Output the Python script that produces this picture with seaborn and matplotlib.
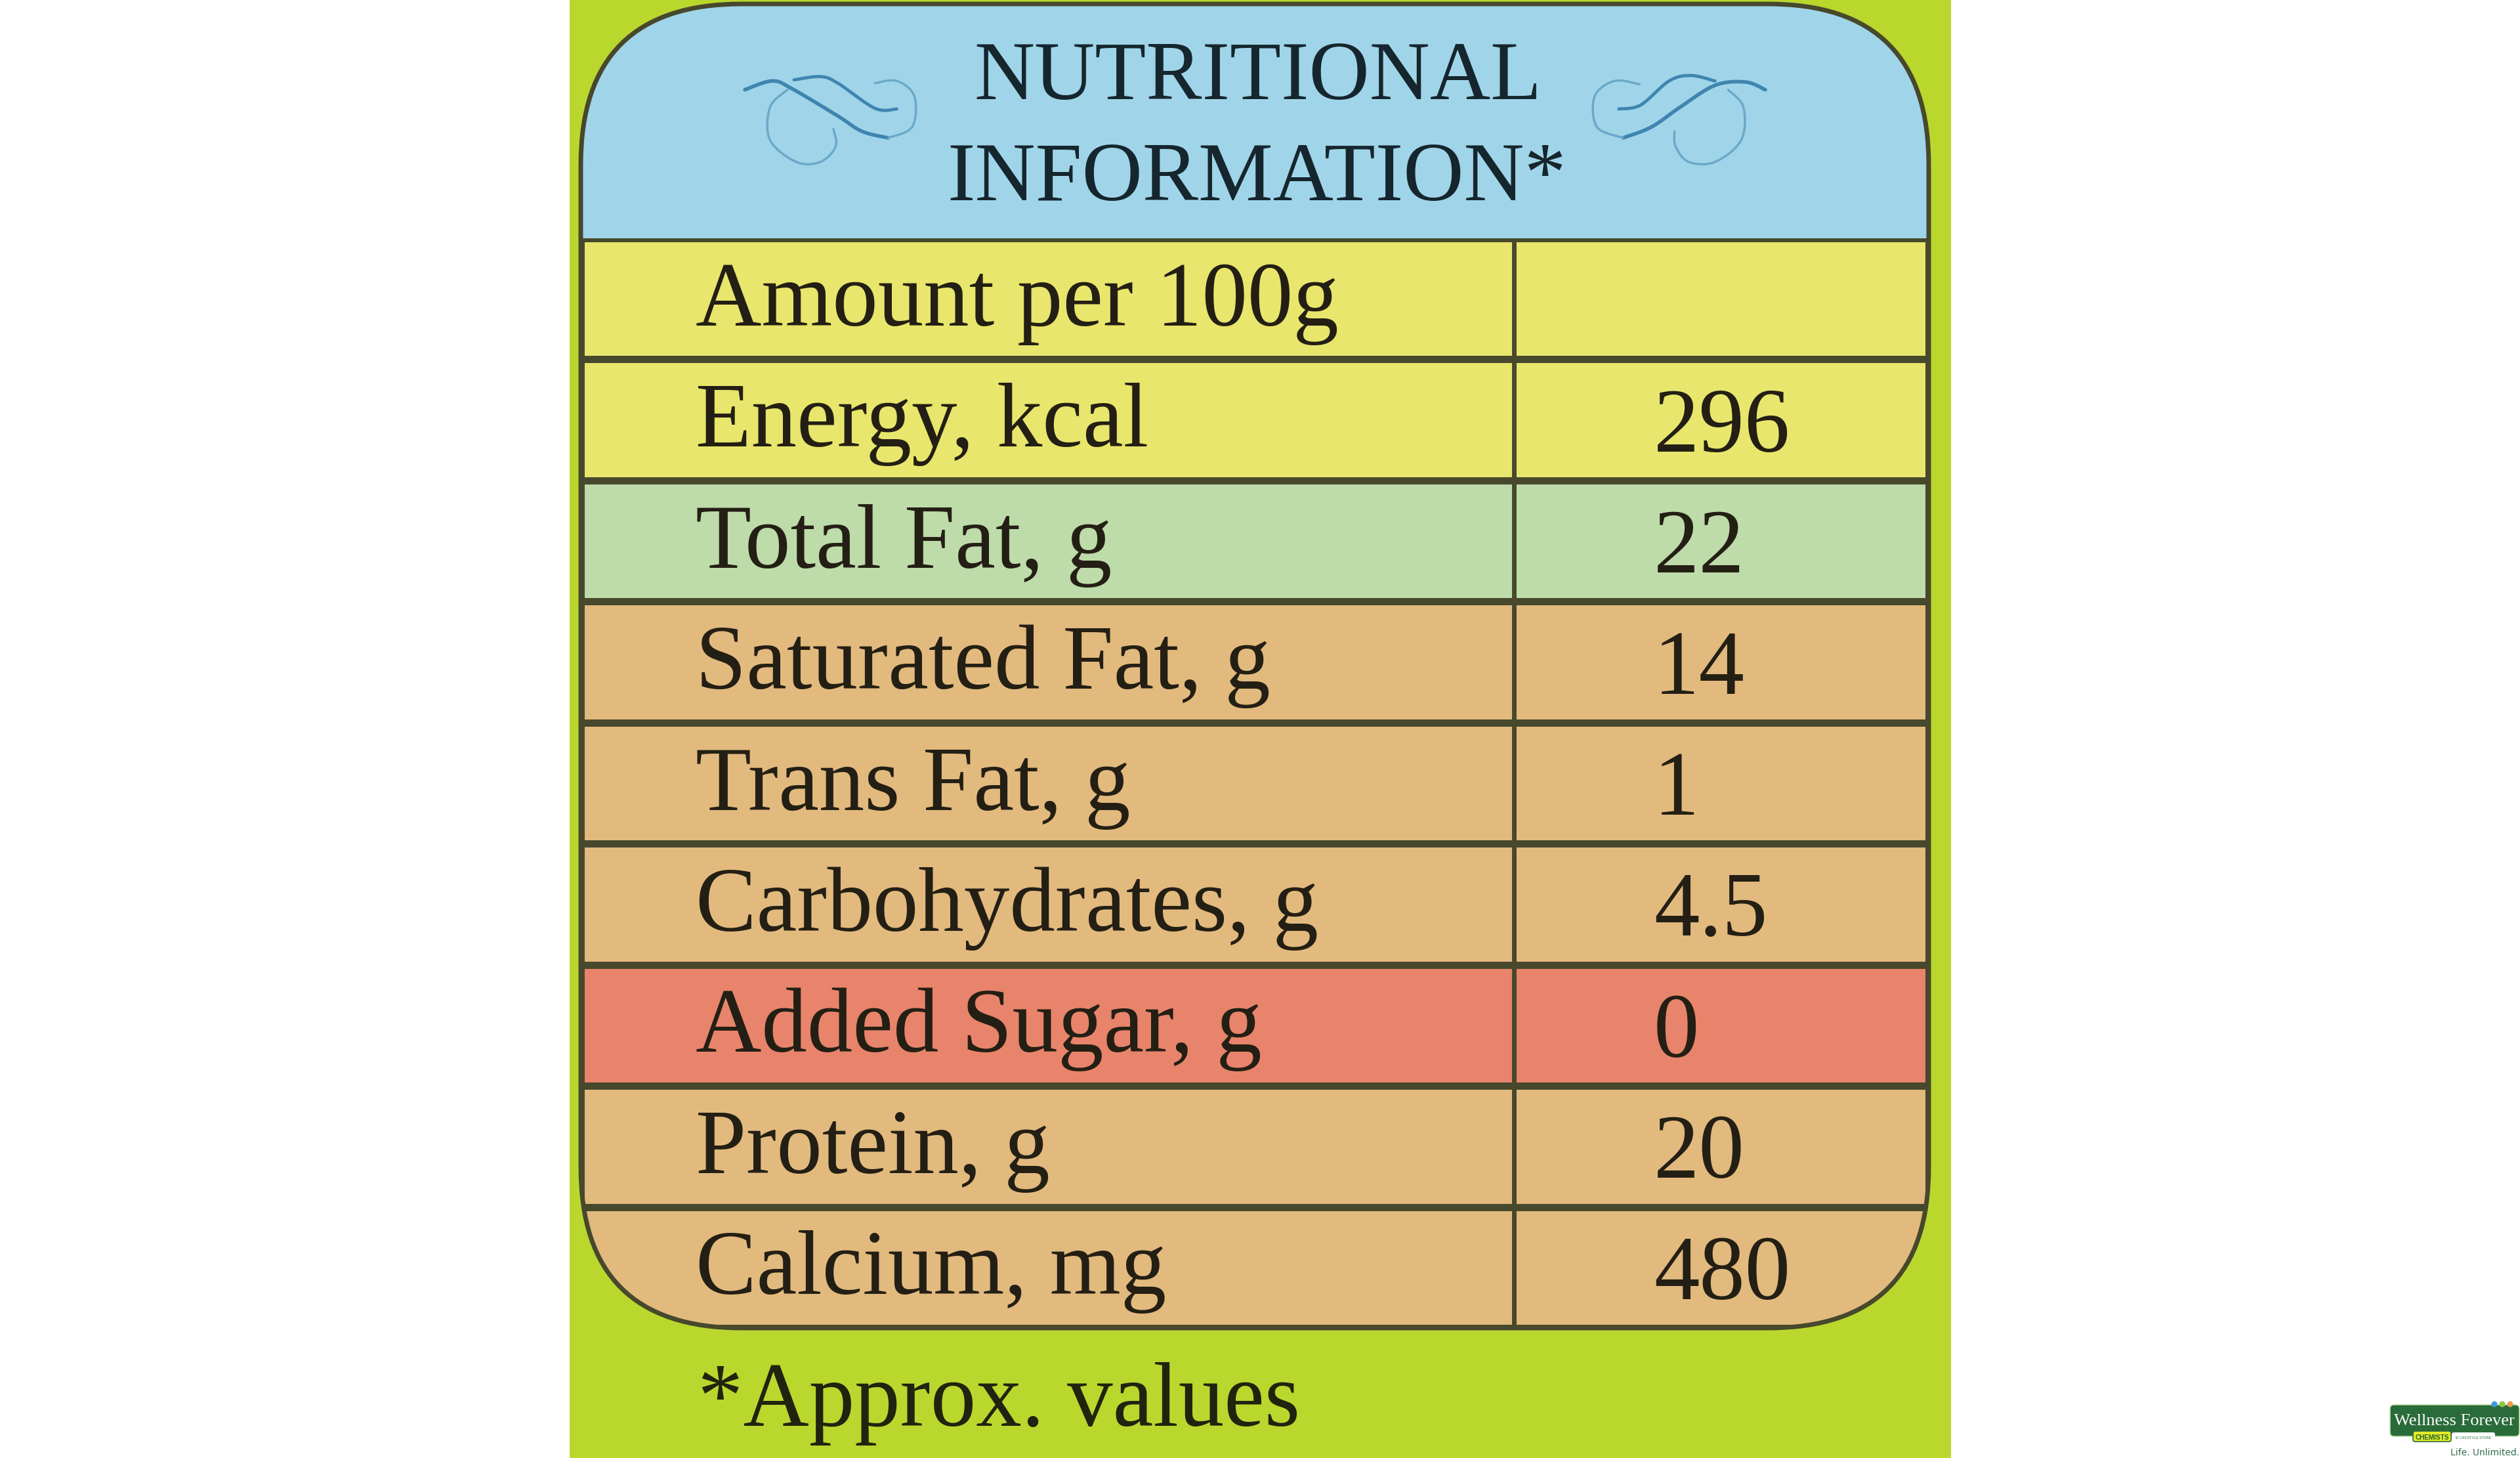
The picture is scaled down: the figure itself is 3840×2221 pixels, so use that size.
import numpy as np
import matplotlib
matplotlib.use("Agg")
import matplotlib.pyplot as plt
from matplotlib.colors import ListedColormap
from matplotlib.patches import FancyBboxPatch, Rectangle, Circle
import seaborn as sns

# ============ Data ============
TITLE_LINES = ["NUTRITIONAL", "INFORMATION*"]
ROW_LABELS = ["Amount per 100g", "Energy, kcal", "Total Fat, g", "Saturated Fat, g", "Trans Fat, g",
              "Carbohydrates, g", "Added Sugar, g", "Protein, g", "Calcium, mg"]
ROW_VALUES = ["", "296", "22", "14", "1", "4.5", "0", "20", "480"]
ROW_BANDS = [0, 0, 1, 2, 2, 2, 3, 2, 2]
BAND_COLORS = ["#E8E66C", "#BEDBAA", "#E2BA7E", "#E8846B"]
FOOTNOTE = "*Approx. values"

# ============ Style ============
W, H = 3840, 2221
LIME = "#BAD72E"
SKY = "#A0D5E9"
LINE = "#47482C"
SERIF = "Liberation Serif"
TXT = "#241F14"
PANEL_L, PANEL_R, PANEL_T, PANEL_B = 885, 2939, 6, 2023
HEAD_B = 363
DIVIDER = 2307
THICK = "#3F85B0"
THIN = "#6BA9C8"

# swash outlines, in crop pixels
SWASH_L = [
    ([(105, 170), (230, 130), (320, 165), (530, 290), (640, 360), (760, 390)], THICK, 4),
    ([(330, 125), (450, 110), (530, 140), (700, 255), (800, 258)], THICK, 3.5),
    ([(760, 390), (870, 340), (880, 200), (800, 130), (700, 140)], THIN, 2.5),
    ([(300, 170), (220, 250), (220, 400), (340, 500), (450, 500), (520, 430), (510, 350)], THIN, 2.5),
]
SWASH_R = [
    ([(870, 170), (780, 135), (640, 150), (480, 250), (350, 340), (220, 390)], THICK, 4),
    ([(640, 130), (530, 105), (430, 130), (300, 240), (200, 258)], THICK, 3.5),
    ([(220, 390), (100, 340), (90, 200), (180, 130), (295, 145)], THIN, 2.5),
    ([(700, 170), (770, 250), (760, 400), (640, 500), (520, 500), (460, 430), (455, 360)], THIN, 2.5),
]


def smooth(pts, n=24):
    # catmull-rom through the outline points
    p = np.array([pts[0]] + pts + [pts[-1]], dtype=float)
    out = []
    for i in range(1, len(p) - 2):
        for t in np.linspace(0, 1, n):
            out.append(0.5 * (2 * p[i] + (p[i + 1] - p[i - 1]) * t
                              + (2 * p[i - 1] - 5 * p[i] + 4 * p[i + 1] - p[i + 2]) * t ** 2
                              + (3 * p[i] - p[i - 1] - 3 * p[i + 1] + p[i + 2]) * t ** 3))
    return np.array(out)


def draw_swash(ax, strokes, x0, y0):
    for pts, col, lw in strokes:
        xy = smooth(pts)
        ax.plot(x0 + xy[:, 0] / 3, y0 + xy[:, 1] / 3, color=col, lw=lw, solid_capstyle="round")


fig = plt.figure(figsize=(W / 100, H / 100), dpi=100, facecolor="white")
bg = fig.add_axes([0, 0, 1, 1], zorder=0)
bg.set_xlim(0, W)
bg.set_ylim(H, 0)
bg.axis("off")

# backdrop and rounded panel
bg.add_patch(Rectangle((868, 0), 2973 - 868, H, fc=LIME, ec="none"))
r = 245
box = FancyBboxPatch((PANEL_L, PANEL_T), PANEL_R - PANEL_L, PANEL_B - PANEL_T,
                     boxstyle=f"round,pad=0,rounding_size={r}", fc=SKY, ec="none")
bg.add_patch(box)

# rows
heat = fig.add_axes([PANEL_L / W, 1 - PANEL_B / H, (PANEL_R - PANEL_L) / W, (PANEL_B - HEAD_B) / H], zorder=1)
heat.patch.set_alpha(0)
grid = np.array(ROW_BANDS).reshape(-1, 1)
sns.heatmap(grid, ax=heat, cmap=ListedColormap(BAND_COLORS), vmin=-0.5, vmax=3.5, cbar=False,
            xticklabels=False, yticklabels=False, linewidths=6.5, linecolor=LINE)
heat.collections[0].set_clip_path(box)
heat.axvline((DIVIDER - PANEL_L) / (PANEL_R - PANEL_L), color=LINE, lw=5)

for i, (label, val) in enumerate(zip(ROW_LABELS, ROW_VALUES)):
    heat.text((1060 - PANEL_L) / (PANEL_R - PANEL_L), i + 0.72, label, family=SERIF, fontsize=100,
              color=TXT, va="baseline", ha="left")
    heat.text((2520 - PANEL_L) / (PANEL_R - PANEL_L), i + 0.76, val, family=SERIF, fontsize=100,
              color=TXT, va="baseline", ha="left")

# outline on top of the rows
heat.add_patch(FancyBboxPatch((PANEL_L, PANEL_T), PANEL_R - PANEL_L, PANEL_B - PANEL_T,
                              boxstyle=f"round,pad=0,rounding_size={r}", fc="none", ec=LINE, lw=5,
                              transform=bg.transData, clip_on=False, zorder=5))

# header
bg.text(1917, 151, TITLE_LINES[0], family=SERIF, fontsize=92, color="#16262E", ha="center", va="baseline")
bg.text(1915, 305, TITLE_LINES[1], family=SERIF, fontsize=92, color="#16262E", ha="center", va="baseline")
draw_swash(bg, SWASH_L, 1100, 80)
draw_swash(bg, SWASH_R, 2400, 80)

# footnote
bg.text(1063, 2172, FOOTNOTE, family=SERIF, fontsize=100, color="#20240E", ha="left", va="baseline")

# store logo, bottom right
bg.add_patch(FancyBboxPatch((3642, 2140), 197, 48, boxstyle="round,pad=0,rounding_size=6", fc="#2A6B3A", ec="#BFE3A0", lw=1))
for cx, col in zip([3801, 3813, 3825], ["#3F9BD8", "#8CC63F", "#F29A4A"]):
    bg.add_patch(Circle((cx, 2139), 4.5, fc=col, ec="none"))
bg.text(3740, 2171, "Wellness Forever", family=SERIF, fontsize=19, color="white", ha="center", va="baseline")
bg.add_patch(FancyBboxPatch((3736, 2182), 66, 13, boxstyle="round,pad=0,rounding_size=3", fc="white", ec="none"))
bg.add_patch(FancyBboxPatch((3677, 2180), 58, 16, boxstyle="round,pad=0,rounding_size=3", fc="#E4EC24", ec="#2A6B3A", lw=1.2))
bg.text(3706, 2193, "CHEMISTS", family="Liberation Sans", fontsize=7.2, weight="bold", color="#1F5E33", ha="center", va="baseline")
bg.text(3769, 2192, "'&' LIFESTYLE STORE", family="Liberation Sans", fontsize=3.9, color="#2A6B3A", ha="center", va="baseline")
bg.text(3839, 2217, "Life. Unlimited.", family="DejaVu Sans", fontsize=10, color="#2F6F4F", ha="right", va="baseline")

fig.savefig("out.png", dpi=100)
